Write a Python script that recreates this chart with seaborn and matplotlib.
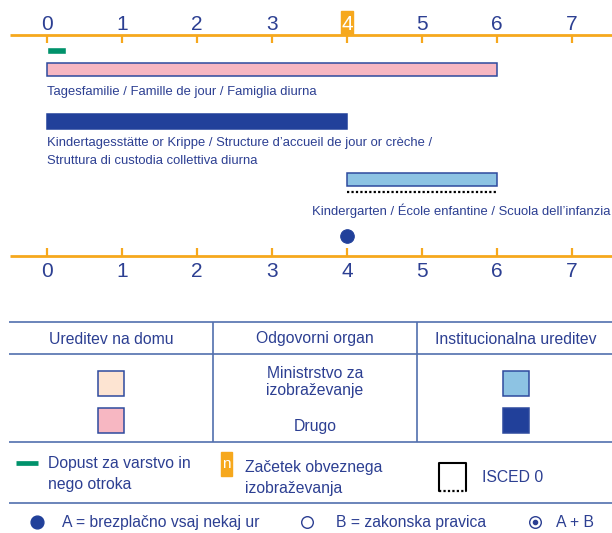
import matplotlib.pyplot as plt
import seaborn as sns
from matplotlib.patches import Rectangle

# data: ages on the scale, programmes with start/end age
ages = [0, 1, 2, 3, 4, 5, 6, 7]
prog_labels = ["Tagesfamilie / Famille de jour / Famiglia diurna",
               "Kindertagesstätte or Krippe / Structure d’accueil de jour or crèche /\nStruttura di custodia collettiva diurna",
               "Kindergarten / École enfantine / Scuola dell’infanzia"]
prog_start = [0, 0, 4]
prog_end = [6, 4, 6]
prog_isced = [False, False, True]
leave_start = 0
leave_end = 0.25
compulsory_age = 4
free_age = [4]

header = ["Ureditev na domu", "Odgovorni organ", "Institucionalna ureditev"]
authority = ["Ministrstvo za\nizobraževanje", "Drugo"]
legend_a = "A = brezplačno vsaj nekaj ur"
legend_b = "B = zakonska pravica"
legend_ab = "A + B"

# colours
orange = "#F6A81D"
navy = "#2C3F92"
barnavy = "#21409A"
pink = "#F7B7C2"
lblue = "#8DC3E3"
peach = "#FDE4D2"
green = "#00926B"
tline = "#5270AE"
prog_fill = [pink, barnavy, lblue]

sns.set_theme(style="white")
plt.rcParams["font.family"] = ["Liberation Sans", "DejaVu Sans"]
digit_font = ["Liberation Sans Narrow", "Liberation Sans"]

fig = plt.figure(figsize=(6.12, 5.33), dpi=100)
ax = fig.add_axes([0, 0, 1, 1])
ax.set_xlim(-47 / 75, 565 / 75)
ax.set_ylim(533, 0)
ax.axis("off")
lay = fig.add_axes([0, 0, 1, 1])
lay.set_xlim(0, 612)
lay.set_ylim(533, 0)
lay.axis("off")
lay.patch.set_alpha(0)

# age scales top and bottom
for line_y, t0, t1, base in [(35, 35, 42.5, 30), (256, 248, 256, 277)]:
    ax.hlines(line_y, -0.5, 565 / 75, color=orange, lw=2)
    ax.vlines(ages, t0, t1, color=orange, lw=1.6)
    for a in ages:
        col = navy
        if base == 30 and a == compulsory_age:
            col = "white"
        ax.text(a, base, str(a), ha="center", va="baseline", fontsize=15,
                color=col, zorder=5, family=digit_font)
ax.add_patch(Rectangle((compulsory_age - 0.08, 11), 0.165, 23, color=orange, zorder=3))

# parental leave
ax.barh(50.5, leave_end - leave_start, left=leave_start, height=6.4, color=green)

# programmes
row_y = [69.3, 121.5, 179.7]
row_h = [13.5, 15, 13.5]
edges = ["#2E4A9E", barnavy, "#2E4A9E"]
for i in range(len(prog_labels)):
    ax.barh(row_y[i], prog_end[i] - prog_start[i], left=prog_start[i], height=row_h[i],
            color=prog_fill[i], edgecolor=edges[i], linewidth=1.1)
    if prog_isced[i]:
        ax.hlines(191.5, prog_start[i], prog_end[i], colors="black", lw=1.6,
                  linestyles=(0, (1, 1)))

ax.text(0, 95.5, prog_labels[0], fontsize=9.4, color=navy, va="baseline")
ax.text(0, 146, prog_labels[1].split("\n")[0], fontsize=9.4, color=navy, va="baseline")
ax.text(0, 164.5, prog_labels[1].split("\n")[1], fontsize=9.4, color=navy, va="baseline")
ax.text(563 / 75, 215, prog_labels[2], fontsize=9.4, color=navy, va="baseline", ha="right")

sns.scatterplot(x=free_age, y=[236], ax=ax, s=95, color=barnavy, edgecolor=barnavy, legend=False)

# table
lay.hlines([322, 354.3, 441.5, 503], 9, 612, color=tline, lw=1.2)
lay.vlines([213.3, 417], 322, 441.5, color=tline, lw=1.2)
for cx, h in zip([111, 315, 516], header):
    lay.text(cx, 343.5, h, ha="center", va="baseline", fontsize=11.3, color=navy)
for bx, by, fc in [(97.7, 370.7, peach), (97.7, 407.7, pink), (503.3, 370.7, lblue), (503.3, 407.7, barnavy)]:
    lay.add_patch(Rectangle((bx, by), 26, 25.5, facecolor=fc, edgecolor="#2E4A9E", lw=1.1))
lay.text(315, 378, authority[0].split("\n")[0], ha="center", va="baseline", fontsize=11.3, color=navy)
lay.text(315, 395.5, authority[0].split("\n")[1], ha="center", va="baseline", fontsize=11.3, color=navy)
lay.text(315, 430.5, authority[1], ha="center", va="baseline", fontsize=11.3, color=navy)

# legend row
lay.hlines(462.7, 16, 37.7, color=green, lw=3.4)
lay.text(48.3, 468, "Dopust za varstvo in", fontsize=11.3, color=navy, va="baseline")
lay.text(48.3, 489.5, "nego otroka", fontsize=11.3, color=navy, va="baseline")
lay.add_patch(Rectangle((221, 451.7), 11.3, 24.3, color=orange))
lay.text(226.7, 468, "n", ha="center", va="baseline", fontsize=11, color="white")
lay.text(245, 472, "Začetek obveznega", fontsize=11.3, color=navy, va="baseline")
lay.text(245, 493.5, "izobraževanja", fontsize=11.3, color=navy, va="baseline")
lay.plot([439, 439, 466, 466], [490.7, 462.7, 462.7, 490.7], color="black", lw=1.5)
lay.hlines(490.7, 439, 466, colors="black", lw=1.6, linestyles=(0, (1, 1)))
lay.text(481.7, 481.5, "ISCED 0", fontsize=11.3, color=navy, va="baseline")

# bottom row
lay.scatter([36.7], [521.7], s=85, color=barnavy)
lay.scatter([307], [521.7], s=70, facecolor="white", edgecolor=navy, lw=1)
lay.scatter([535], [521.7], s=70, facecolor="white", edgecolor=navy, lw=1)
lay.scatter([535], [521.7], s=9, color=navy)
lay.text(62.5, 527.3, legend_a, fontsize=11.3, color=navy, va="baseline")
lay.text(336, 527.3, legend_b, fontsize=11.3, color=navy, va="baseline")
lay.text(556, 527.3, legend_ab, fontsize=11.3, color=navy, va="baseline")

fig.savefig("out.png", dpi=100)
